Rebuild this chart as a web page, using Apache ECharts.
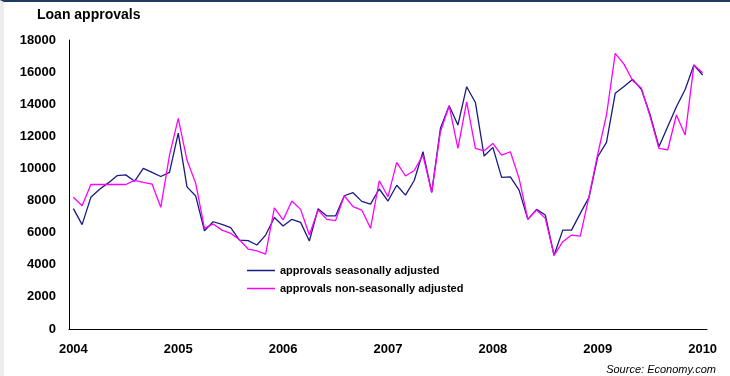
<!DOCTYPE html>
<html>
<head>
<meta charset="utf-8">
<script src="https://cdn.jsdelivr.net/npm/echarts@6/dist/echarts.min.js"></script>
<style>
	html, body { margin: 0; padding: 0; background: #fff; }
	#frame { position: relative; width: 730px; height: 376px; box-sizing: border-box;
		border-top: 2px solid #243a66; border-left: 4px solid #ececec; }
	#chart { position: absolute; left: -4px; top: -2px; width: 730px; height: 376px; }
</style>
</head>
<body>
<div id="frame"><div id="chart"></div></div>
<script>
	"use strict";
	// monthly, Jan 2004 .. Jan 2010
	var years = [ "2004", "2005", "2006", "2007", "2008", "2009", "2010" ];
	var seasonal = [
		7500, 6500, 8200, 8700, 9100, 9550, 9600, 9200, 10000, 9750, 9500, 9750,
		12200, 8850, 8280, 6120, 6680, 6520, 6310, 5540, 5500, 5230, 5850, 6950,
		6410, 6830, 6640, 5480, 7490, 7040, 7040, 8300, 8490, 7950, 7780, 8720,
		7970, 8950, 8340, 9250, 11040, 8510, 12500, 13900, 12700, 15090, 14110, 10770,
		11310, 9440, 9480, 8650, 6830, 7450, 7100, 4590, 6160, 6160, 7200, 8200,
		10730, 11620, 14680, 15100, 15550, 14920, 13330, 11350, 12600, 13840, 14920, 16440,
		15820
	];
	var nonSeasonal = [
		8200, 7680, 9000, 9000, 9000, 9000, 9000, 9260, 9130, 9030, 7580, 10830,
		13120, 10520, 9070, 6270, 6540, 6160, 5960, 5560, 4980, 4860, 4670, 7550,
		6790, 7970, 7450, 5850, 7410, 6830, 6750, 8300, 7620, 7410, 6270, 9230,
		8240, 10380, 9530, 9870, 10830, 8510, 12290, 13900, 11250, 14150, 11250, 11100,
		11560, 10830, 11040, 9380, 6830, 7410, 6890, 4590, 5440, 5850, 5790, 8240,
		10900, 13330, 17170, 16500, 15460, 14990, 13220, 11250, 11150, 13330, 12080, 16440,
		15960
	];

	var months = [];
	for (var i = 0; i < seasonal.length; i++) {
		months.push(i % 12 === 0 ? years[i / 12] : "");
	}

	var font = "'Liberation Sans', Arial, sans-serif";
	var myChart = echarts.init(document.getElementById("chart"));
	myChart.setOption({
		animation : false,
		textStyle : { fontFamily : font },
		title : [ {
			text : "Loan approvals",
			left : 32, top : 3,
			textStyle : { fontSize : 14, fontWeight : "bold", color : "#000", fontFamily : font }
		}, {
			text : "Source: Economy.com",
			right : 9, top : 359,
			textStyle : { fontSize : 11, fontStyle : "italic", fontWeight : "normal", color : "#000", fontFamily : font }
		} ],
		legend : {
			orient : "vertical",
			left : 242, top : 260,
			itemWidth : 28, itemHeight : 1.5, itemGap : 7,
			icon : "rect",
			textStyle : { fontSize : 11, fontWeight : "bold", color : "#000", fontFamily : font },
			data : [ "approvals seasonally adjusted", "approvals non-seasonally adjusted" ]
		},
		grid : { left : 69, right : 23, top : 40, bottom : 47 },
		xAxis : {
			type : "category",
			data : months,
			boundaryGap : true,
			axisLine : { lineStyle : { color : "#000", width : 1 } },
			axisTick : { show : false },
			axisLabel : { interval : 11, margin : 14, fontSize : 13, fontWeight : "bold", color : "#000", fontFamily : font }
		},
		yAxis : {
			type : "value",
			min : 0, max : 18000, interval : 2000,
			splitLine : { show : false },
			axisLine : { show : true, lineStyle : { color : "#000", width : 1 } },
			axisTick : { show : false },
			axisLabel : {
				margin : 13, fontSize : 13, fontWeight : "bold", color : "#000", fontFamily : font,
				formatter : function(v) { return String(v); }
			}
		},
		series : [ {
			name : "approvals seasonally adjusted",
			type : "line",
			data : seasonal,
			symbol : "none",
			color : "#1a1a80",
			lineStyle : { width : 1.3, color : "#1a1a80" }
		}, {
			name : "approvals non-seasonally adjusted",
			type : "line",
			data : nonSeasonal,
			symbol : "none",
			color : "#ff00ff",
			lineStyle : { width : 1.3, color : "#ff00ff" }
		} ]
	});
</script>
</body>
</html>
